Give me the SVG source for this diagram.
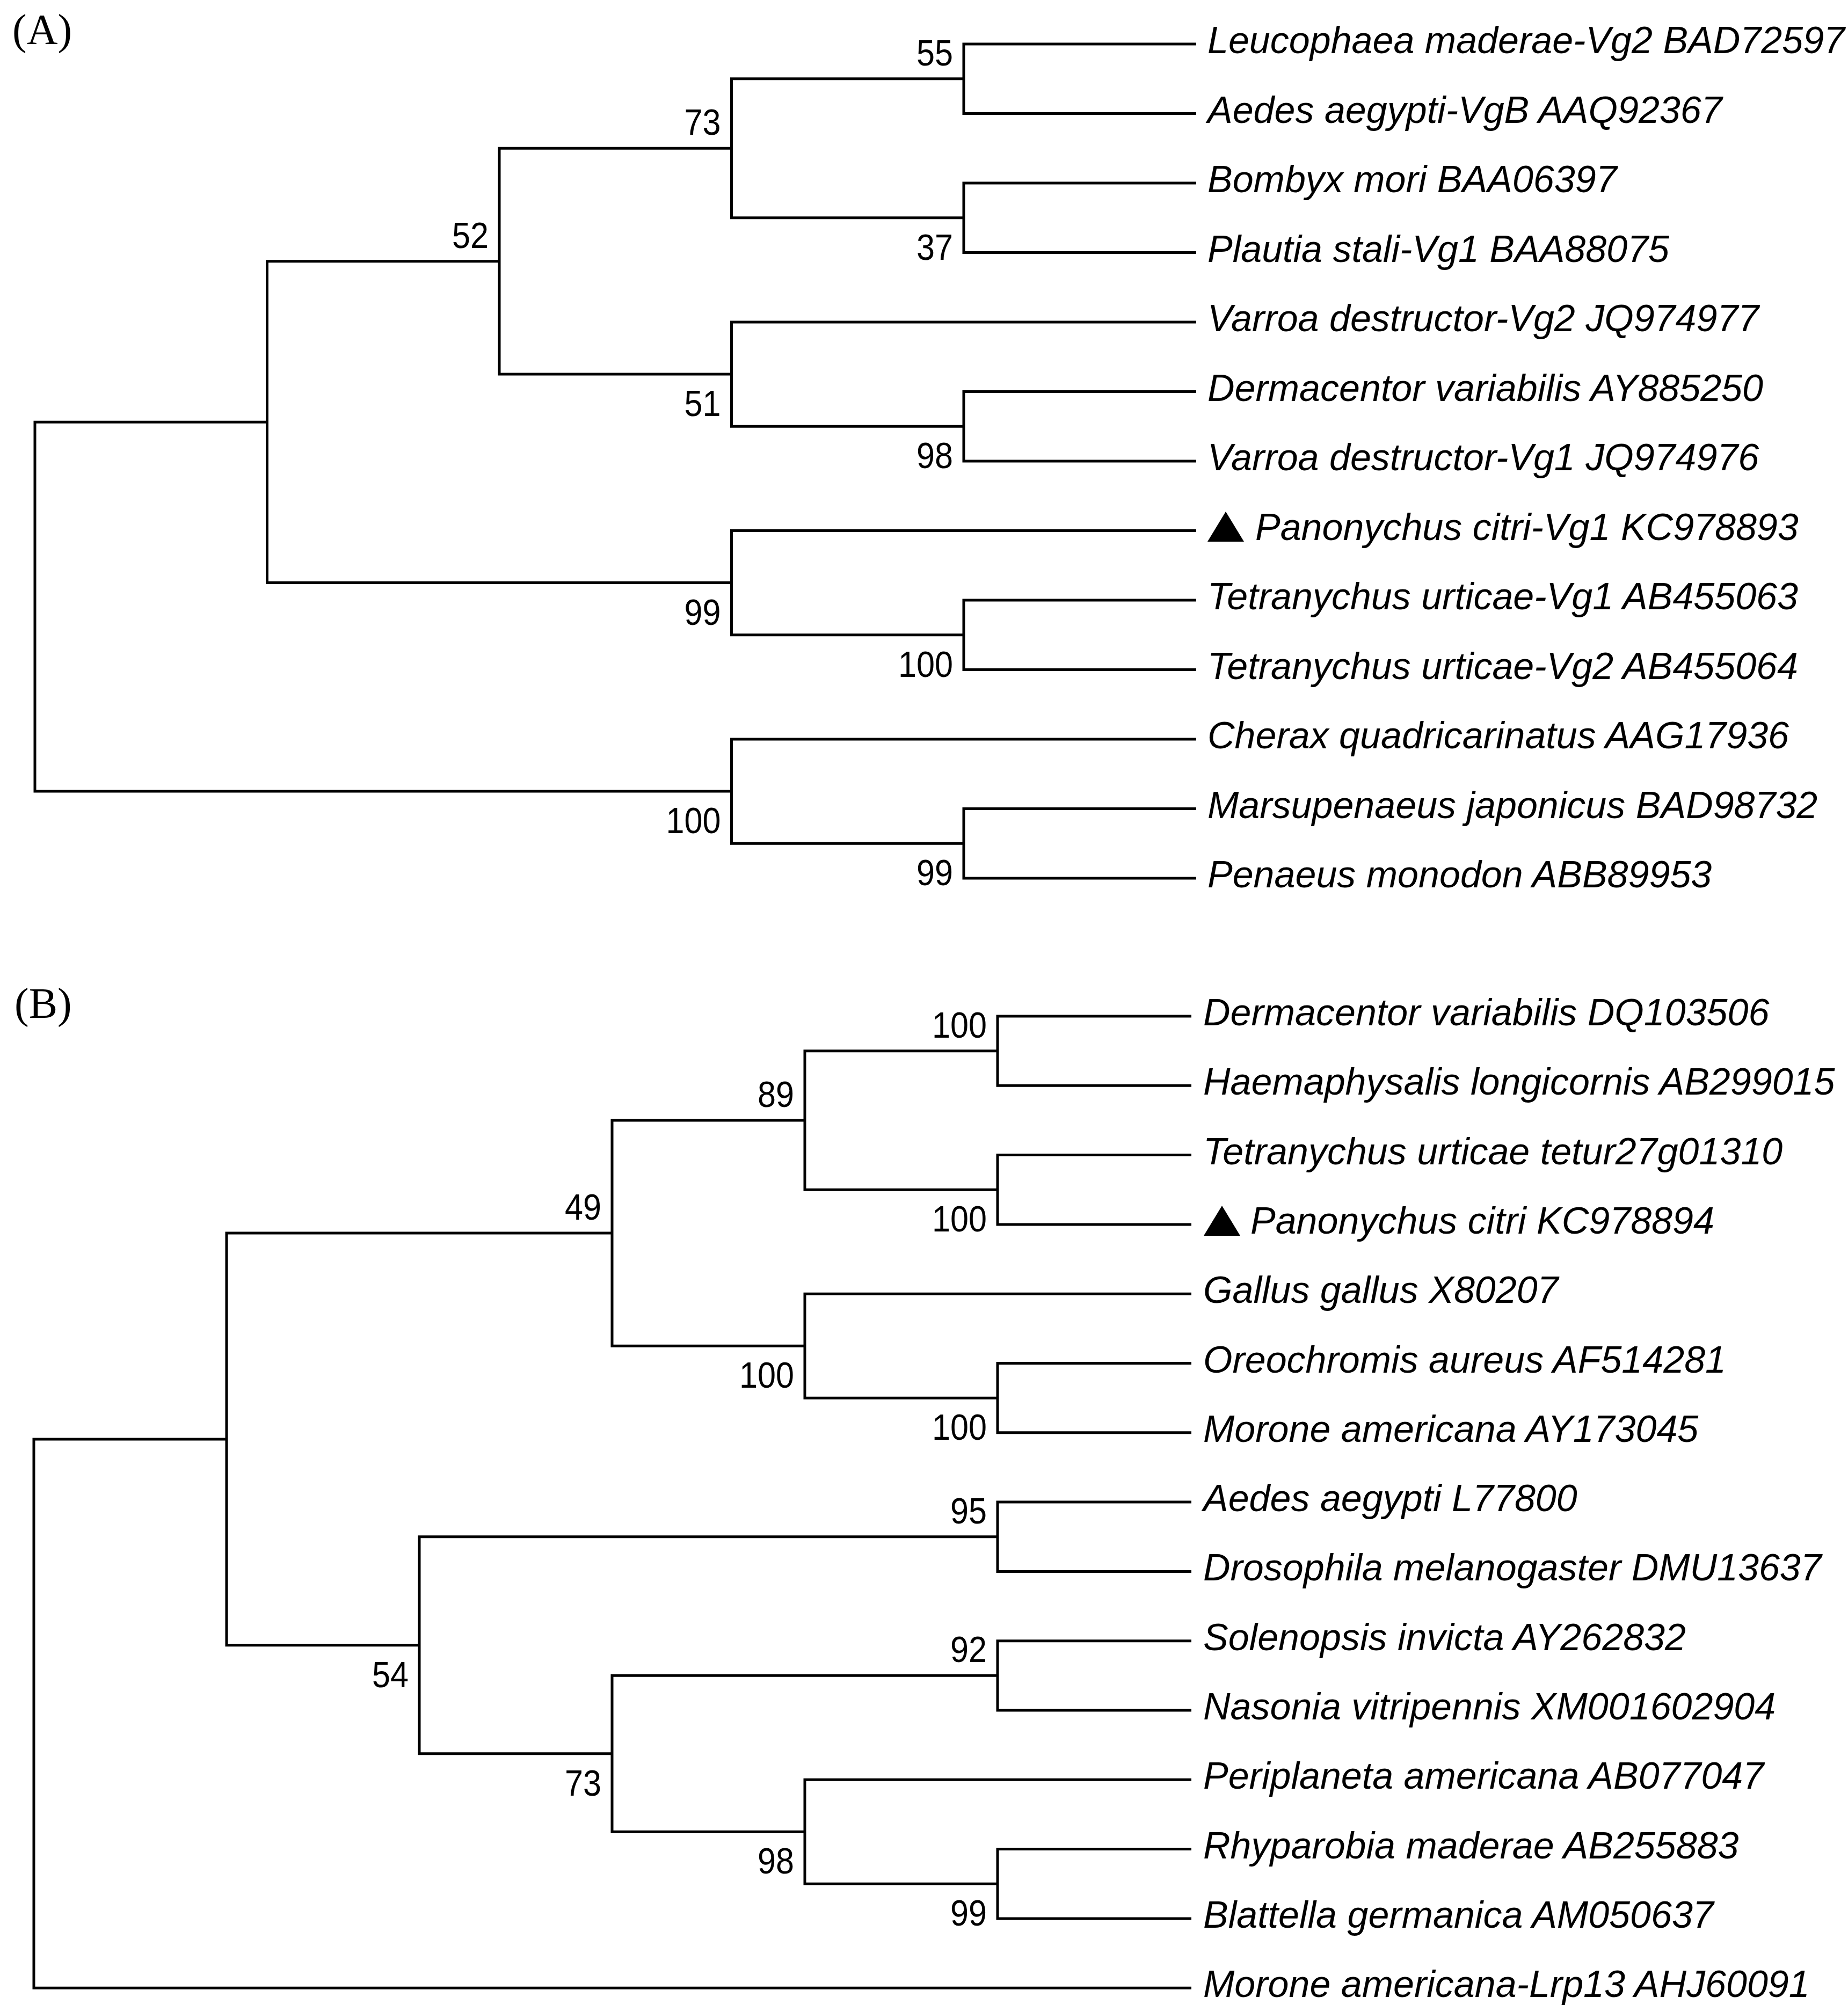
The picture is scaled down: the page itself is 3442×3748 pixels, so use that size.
<svg xmlns="http://www.w3.org/2000/svg" width="3442" height="3748" viewBox="0 0 3442 3748">
<style>
.br{fill:none;stroke:#000;stroke-width:5;stroke-linejoin:miter;stroke-linecap:butt}
.lbl{font-family:"Liberation Sans",Arial,sans-serif;font-size:68px;text-anchor:end;fill:#000}
.leaf{font-family:"Liberation Sans",Arial,sans-serif;font-style:italic;font-size:70px;fill:#000}
.panel{font-family:"Liberation Serif","Times New Roman",serif;font-size:80px;fill:#000}
.tri{fill:#000}
</style>
<rect width="3442" height="3748" fill="#fff"/>
<text class="panel" x="23" y="82">(A)</text>
<text class="panel" x="27" y="1896">(B)</text>

<g id="connectors">
<path class="br" d="M2228,82 H1795 V211.5 H2228"/>
<path class="br" d="M2228,341 H1795 V470.5 H2228"/>
<path class="br" d="M1795,146.75 H1362.5 V405.75 H1795"/>
<path class="br" d="M2228,729.5 H1795 V859 H2228"/>
<path class="br" d="M2228,600 H1362.5 V794.25 H1795"/>
<path class="br" d="M1362.5,276.25 H930 V697.1 H1362.5"/>
<path class="br" d="M2228,1118 H1795 V1247.5 H2228"/>
<path class="br" d="M2228,988.5 H1362.5 V1182.75 H1795"/>
<path class="br" d="M930,486.7 H497.5 V1085.6 H1362.5"/>
<path class="br" d="M2228,1506.5 H1795 V1636 H2228"/>
<path class="br" d="M2228,1377 H1362.5 V1571.25 H1795"/>
<path class="br" d="M497.5,786.2 H65 V1474.1 H1362.5"/>

<path class="br" d="M2219,1893 H1858 V2022.3 H2219"/>
<path class="br" d="M2219,2151.6 H1858 V2280.9 H2219"/>
<path class="br" d="M1858,1957.65 H1499 V2216.25 H1858"/>
<path class="br" d="M2219,2539.5 H1858 V2668.8 H2219"/>
<path class="br" d="M2219,2410.2 H1499 V2604.15 H1858"/>
<path class="br" d="M1499,2086.95 H1140 V2507.2 H1499"/>
<path class="br" d="M2219,2798.1 H1858 V2927.4 H2219"/>
<path class="br" d="M2219,3056.7 H1858 V3186 H2219"/>
<path class="br" d="M2219,3444.6 H1858 V3573.9 H2219"/>
<path class="br" d="M2219,3315.3 H1499 V3509.25 H1858"/>
<path class="br" d="M1858,3121.35 H1140 V3412.3 H1499"/>
<path class="br" d="M1858,2862.75 H781 V3266.8 H1140"/>
<path class="br" d="M1140,2297.1 H422 V3064.8 H781"/>
<path class="br" d="M422,2680.9 H63 V3703.2 H2219"/>
</g>

<!-- Tree A internal nodes -->
<g id="A-n55"><text class="lbl" x="1775" y="121.75" textLength="68" lengthAdjust="spacingAndGlyphs">55</text></g>
<g id="A-n37"><text class="lbl" x="1775" y="483.75" textLength="68" lengthAdjust="spacingAndGlyphs">37</text></g>
<g id="A-n73"><text class="lbl" x="1342.5" y="251.25" textLength="68" lengthAdjust="spacingAndGlyphs">73</text></g>
<g id="A-n98"><text class="lbl" x="1775" y="872.25" textLength="68" lengthAdjust="spacingAndGlyphs">98</text></g>
<g id="A-n51"><text class="lbl" x="1342.5" y="775.1" textLength="68" lengthAdjust="spacingAndGlyphs">51</text></g>
<g id="A-n52"><text class="lbl" x="910" y="461.7" textLength="68" lengthAdjust="spacingAndGlyphs">52</text></g>
<g id="A-n100a"><text class="lbl" x="1775" y="1260.75" textLength="102" lengthAdjust="spacingAndGlyphs">100</text></g>
<g id="A-n99a"><text class="lbl" x="1342.5" y="1163.6" textLength="68" lengthAdjust="spacingAndGlyphs">99</text></g>
<g id="A-n99b"><text class="lbl" x="1775" y="1649.25" textLength="68" lengthAdjust="spacingAndGlyphs">99</text></g>
<g id="A-n100b"><text class="lbl" x="1342.5" y="1552.1" textLength="102" lengthAdjust="spacingAndGlyphs">100</text></g>

<!-- Tree A leaves -->
<g id="A-leaf1"><text class="leaf" x="2249" y="99">Leucophaea maderae-Vg2 BAD72597</text></g>
<g id="A-leaf2"><text class="leaf" x="2249" y="228.5">Aedes aegypti-VgB AAQ92367</text></g>
<g id="A-leaf3"><text class="leaf" x="2249" y="358">Bombyx mori BAA06397</text></g>
<g id="A-leaf4"><text class="leaf" x="2249" y="487.5">Plautia stali-Vg1 BAA88075</text></g>
<g id="A-leaf5"><text class="leaf" x="2249" y="617">Varroa destructor-Vg2 JQ974977</text></g>
<g id="A-leaf6"><text class="leaf" x="2249" y="746.5">Dermacentor variabilis AY885250</text></g>
<g id="A-leaf7"><text class="leaf" x="2249" y="876">Varroa destructor-Vg1 JQ974976</text></g>
<g id="A-leaf8"><polygon class="tri" points="2249,1009 2317,1009 2283,953"/><text class="leaf" x="2338" y="1005.5">Panonychus citri-Vg1 KC978893</text></g>
<g id="A-leaf9"><text class="leaf" x="2249" y="1135">Tetranychus urticae-Vg1 AB455063</text></g>
<g id="A-leaf10"><text class="leaf" x="2249" y="1264.5">Tetranychus urticae-Vg2 AB455064</text></g>
<g id="A-leaf11"><text class="leaf" x="2249" y="1394">Cherax quadricarinatus AAG17936</text></g>
<g id="A-leaf12"><text class="leaf" x="2249" y="1523.5">Marsupenaeus japonicus BAD98732</text></g>
<g id="A-leaf13"><text class="leaf" x="2249" y="1653">Penaeus monodon ABB89953</text></g>

<!-- Tree B internal nodes -->
<g id="B-n100a"><text class="lbl" x="1838" y="1932.65" textLength="102" lengthAdjust="spacingAndGlyphs">100</text></g>
<g id="B-n100b"><text class="lbl" x="1838" y="2294.25" textLength="102" lengthAdjust="spacingAndGlyphs">100</text></g>
<g id="B-n89"><text class="lbl" x="1479" y="2061.95" textLength="68" lengthAdjust="spacingAndGlyphs">89</text></g>
<g id="B-n100c"><text class="lbl" x="1838" y="2682.15" textLength="102" lengthAdjust="spacingAndGlyphs">100</text></g>
<g id="B-n100d"><text class="lbl" x="1479" y="2585.2" textLength="102" lengthAdjust="spacingAndGlyphs">100</text></g>
<g id="B-n49"><text class="lbl" x="1120" y="2272.1" textLength="68" lengthAdjust="spacingAndGlyphs">49</text></g>
<g id="B-n95"><text class="lbl" x="1838" y="2837.75" textLength="68" lengthAdjust="spacingAndGlyphs">95</text></g>
<g id="B-n92"><text class="lbl" x="1838" y="3096.35" textLength="68" lengthAdjust="spacingAndGlyphs">92</text></g>
<g id="B-n99"><text class="lbl" x="1838" y="3587.25" textLength="68" lengthAdjust="spacingAndGlyphs">99</text></g>
<g id="B-n98"><text class="lbl" x="1479" y="3490.3" textLength="68" lengthAdjust="spacingAndGlyphs">98</text></g>
<g id="B-n73"><text class="lbl" x="1120" y="3344.8" textLength="68" lengthAdjust="spacingAndGlyphs">73</text></g>
<g id="B-n54"><text class="lbl" x="761" y="3142.8" textLength="68" lengthAdjust="spacingAndGlyphs">54</text></g>

<!-- Tree B leaves -->
<g id="B-leaf1"><text class="leaf" x="2241" y="1910">Dermacentor variabilis DQ103506</text></g>
<g id="B-leaf2"><text class="leaf" x="2241" y="2039.3">Haemaphysalis longicornis AB299015</text></g>
<g id="B-leaf3"><text class="leaf" x="2241" y="2168.6">Tetranychus urticae tetur27g01310</text></g>
<g id="B-leaf4"><polygon class="tri" points="2242,2302 2310,2302 2276,2246"/><text class="leaf" x="2329" y="2297.9">Panonychus citri KC978894</text></g>
<g id="B-leaf5"><text class="leaf" x="2241" y="2427.2">Gallus gallus X80207</text></g>
<g id="B-leaf6"><text class="leaf" x="2241" y="2556.5">Oreochromis aureus AF514281</text></g>
<g id="B-leaf7"><text class="leaf" x="2241" y="2685.8">Morone americana AY173045</text></g>
<g id="B-leaf8"><text class="leaf" x="2241" y="2815.1">Aedes aegypti L77800</text></g>
<g id="B-leaf9"><text class="leaf" x="2241" y="2944.4">Drosophila melanogaster DMU13637</text></g>
<g id="B-leaf10"><text class="leaf" x="2241" y="3073.7">Solenopsis invicta AY262832</text></g>
<g id="B-leaf11"><text class="leaf" x="2241" y="3203">Nasonia vitripennis XM001602904</text></g>
<g id="B-leaf12"><text class="leaf" x="2241" y="3332.3">Periplaneta americana AB077047</text></g>
<g id="B-leaf13"><text class="leaf" x="2241" y="3461.6">Rhyparobia maderae AB255883</text></g>
<g id="B-leaf14"><text class="leaf" x="2241" y="3590.9">Blattella germanica AM050637</text></g>
<g id="B-leaf15"><text class="leaf" x="2241" y="3720.2">Morone americana-Lrp13 AHJ60091</text></g>
</svg>
